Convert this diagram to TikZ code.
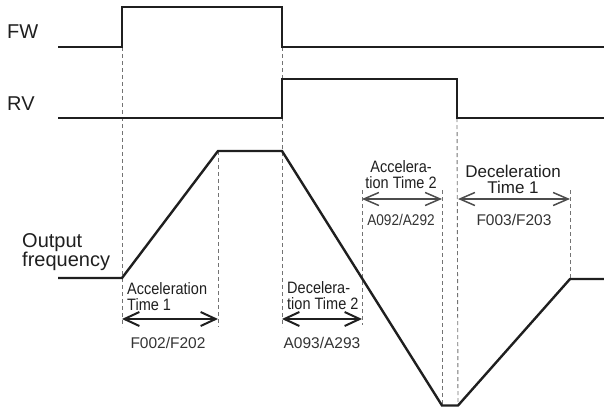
\documentclass[tikz,border=0pt]{standalone}
\usepackage{fontspec}
\setmainfont{Liberation Sans}
\newfontfamily\narrowf[FakeStretch=0.88]{Liberation Sans}
\usetikzlibrary{arrows.meta}
\begin{document}
\begin{tikzpicture}[x=1pt,y=-1pt,
  sig/.style={line width=2.4pt, black!88, line join=miter},
  guide/.style={line width=0.9pt, black!55, dash pattern=on 4pt off 3pt},
  spanlow/.style={line width=2pt, black!88, {Straight Barb[length=15pt,width=14pt]}-{Straight Barb[length=15pt,width=14pt]}},
  spanhigh/.style={line width=1.5pt, black!70, {Straight Barb[length=15pt,width=13pt]}-{Straight Barb[length=15pt,width=13pt]}},
  siglabel/.style={anchor=base west, inner sep=0pt, font=\fontsize{20}{20}\selectfont, text=black!88},
  timelabel/.style={inner sep=0pt, font=\narrowf\fontsize{16.5}{16}\selectfont, text=black!88},
  codelabel/.style={anchor=base, inner sep=0pt, font=\fontsize{15.5}{16}\selectfont, text=black!80}
]
\useasboundingbox (0,0) rectangle (604,407);

% waveform corner points
\coordinate (fa) at (58,47);  \coordinate (fb) at (122,47); \coordinate (fc) at (122,7);
\coordinate (fd) at (282,7);  \coordinate (fe) at (282,47); \coordinate (ff) at (604,47);
\coordinate (ra) at (58,118); \coordinate (rb) at (282,118); \coordinate (rc) at (282,79);
\coordinate (rd) at (457,79); \coordinate (re) at (457,118); \coordinate (rf) at (604,118);
\coordinate (oa) at (58,278); \coordinate (ob) at (122,278); \coordinate (oc) at (218,151);
\coordinate (od) at (282,151); \coordinate (oe) at (442,405.5); \coordinate (of) at (458,405.5);
\coordinate (og) at (570,279); \coordinate (oh) at (604,279);

% guide line ends
\coordinate (g1b) at (122,327); \coordinate (g2b) at (218,327); \coordinate (g3b) at (282,327);
\coordinate (g4t) at (362,190); \coordinate (g4b) at (362,325);
\coordinate (g5t) at (442,190); \coordinate (g6t) at (458,118);
\coordinate (g7t) at (570,190);

% dashed guides
\draw[guide] (fb) -- (g1b);
\draw[guide] (oc) -- (g2b);
\draw[guide] (fe) -- (g3b);
\draw[guide] (g4t) -- (g4b);
\draw[guide] (g5t) -- (oe);
\draw[guide] (re) -- (of);
\draw[guide] (g7t) -- (og);

% signals
\draw[sig] (fa) -- (fb) -- (fc) -- (fd) -- (fe) -- (ff);
\draw[sig] (ra) -- (rb) -- (rc) -- (rd) -- (re) -- (rf);
\draw[sig] (oa) -- (ob) -- (oc) -- (od) -- (oe) -- (of) -- (og) -- (oh);

% signal labels
\node[siglabel] (lfw) at (7,38) {FW};
\node[siglabel] (lrv) at (7,110) {RV};
\node[siglabel, align=left, font=\fontsize{20}{16}\selectfont] (lout) at (22,266) {Output\\[-1pt]frequency};

% span arrows
\coordinate (a1l) at (122,319); \coordinate (a1r) at (218,319);
\coordinate (a2l) at (282,319); \coordinate (a2r) at (362,319);
\coordinate (a3l) at (362,199); \coordinate (a3r) at (442,199);
\coordinate (a4l) at (458,199); \coordinate (a4r) at (570,199);
\draw[spanlow] (a1l) -- (a1r);
\draw[spanlow] (a2l) -- (a2r);
\draw[spanhigh] (a3l) -- (a3r);
\draw[spanhigh] (a4l) -- (a4r);

% time labels
\node[timelabel, anchor=base west, align=left] (t1) at (127,310) {Acceleration\\Time 1};
\node[timelabel, anchor=base west, align=left] (t2) at (287,309) {Decelera-\\tion Time 2};
\node[timelabel, anchor=base, align=center] (t3) at (401,188) {Accelera-\\tion Time 2};
\node[timelabel, anchor=base, align=center, font=\fontsize{17}{16}\selectfont] (t4) at (513,193) {Deceleration\\Time 1};

% parameter codes
\node[codelabel] (c1) at (168,348) {F002/F202};
\node[codelabel] (c2) at (322,348) {A093/A293};
\node[codelabel, font=\narrowf\fontsize{15.5}{16}\selectfont] (c3) at (401,225) {A092/A292};
\node[codelabel] (c4) at (514,225) {F003/F203};
\end{tikzpicture}
\end{document}
